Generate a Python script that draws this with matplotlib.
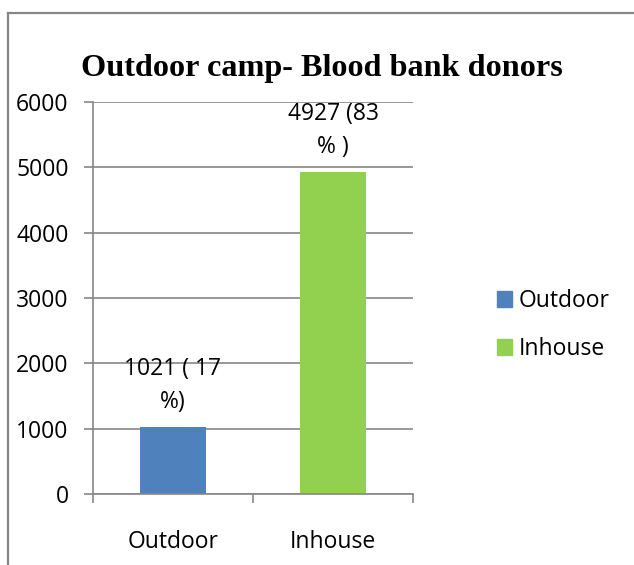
import matplotlib.pyplot as plt
from matplotlib.lines import Line2D

# data
categories = ['Outdoor', 'Inhouse']
donors = [1021, 4927]
bar_labels = ['1021 ( 17\n%)', '4927 (83\n% )']
bar_colors = ['#4f81bd', '#92d050']
y_ticks = [0, 1000, 2000, 3000, 4000, 5000, 6000]

W, H = 634, 565
fig = plt.figure(figsize=(W / 100, H / 100), dpi=100)
fig.patch.set_facecolor('white')

grey = '#868686'
font = 'Open Sans'

# outer chart frame (left and top edges visible)
fig.add_artist(Line2D([8 / W, 8 / W], [0, 1 - 13 / H], color=grey, lw=1.6, transform=fig.transFigure))
fig.add_artist(Line2D([8 / W, 1], [1 - 13 / H, 1 - 13 / H], color=grey, lw=1.6, transform=fig.transFigure))

ax = fig.add_axes([93 / W, 1 - 494 / H, 320 / W, 392 / H])

x = range(len(categories))
bars = ax.bar(x, donors, width=0.41, color=bar_colors, zorder=3)

for b, lab in zip(bars, bar_labels):
    ax.annotate(lab, (b.get_x() + b.get_width() / 2, b.get_height()),
                xytext=(0, 9.5), textcoords='offset points', ha='center', va='bottom',
                fontsize=16.5, family=font, linespacing=1.5)

ax.set_xlim(-0.5, 1.5)
ax.set_ylim(0, 6000)
ax.set_yticks(y_ticks)
ax.set_yticklabels([str(v) for v in y_ticks], fontsize=16.5, family=font)
ax.set_xticks(list(x))
ax.set_xticklabels(categories, fontsize=16.5, family=font)
ax.set_xticks([-0.5, 0.5, 1.5], minor=True)

ax.tick_params(axis='y', length=6.5, width=1.2, color=grey, pad=11)
ax.tick_params(axis='x', which='major', length=0, pad=26)
ax.tick_params(axis='x', which='minor', length=6.5, width=1.2, color=grey)

ax.yaxis.grid(True, color=grey, lw=1.2, zorder=0)
ax.set_axisbelow(True)
for side in ['top', 'right']:
    ax.spines[side].set_visible(False)
for side in ['left', 'bottom']:
    ax.spines[side].set_color(grey)
    ax.spines[side].set_linewidth(1.2)
    ax.spines[side].set_zorder(4)

# legend
handles = [plt.Rectangle((0, 0), 1, 1, color=c) for c in bar_colors]
fig.legend(handles, categories, loc='center left', bbox_to_anchor=(476 / W, 1 - 325 / H),
           frameon=False, prop={'family': font, 'size': 16.5},
           handlelength=0.65, handleheight=0.65, handletextpad=0.3, labelspacing=1.05)

fig.text(322 / W, 1 - 68 / H, 'Outdoor camp- Blood bank donors', ha='center', va='center',
         fontsize=23.2, fontweight='bold', family='Liberation Serif')

fig.savefig('out.png', dpi=100)
